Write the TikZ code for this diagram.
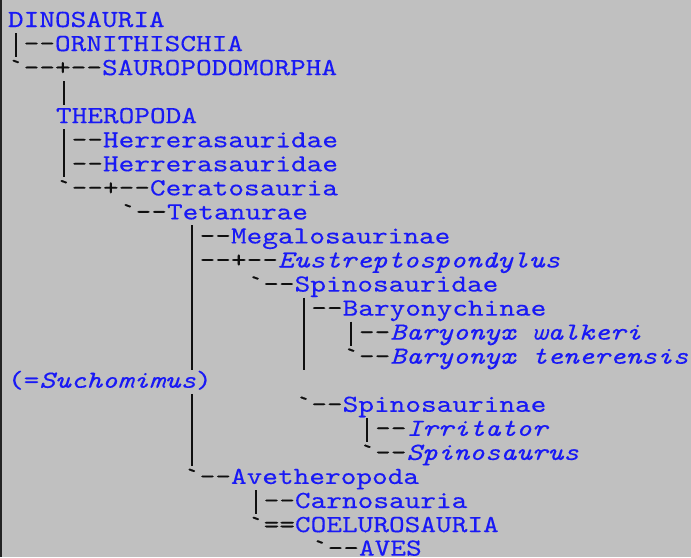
\documentclass[tikz,border=0pt]{standalone}
\usepackage{fontspec}
\setmonofont{lmmono10-regular}[Extension=.otf, ItalicFont=lmmono10-italic, FakeStretch=1.2167, WordSpace=1.0224, FakeBold=0.3]
\usepackage{tikz}
\definecolor{pagegrey}{RGB}{192,192,192}
\definecolor{edgegrey}{RGB}{35,35,35}
\definecolor{linkblue}{RGB}{25,25,245}
\definecolor{treeink}{RGB}{15,15,15}
\newcommand{\tx}[1]{\textcolor{linkblue}{#1}}
\newcommand{\tix}[1]{\textcolor{linkblue}{\textit{#1}}}

\begin{document}
\begin{tikzpicture}[x=0.75pt,y=-0.75pt]
\tikzstyle{row}=[anchor=base west, inner sep=0pt, outer sep=0pt, text height=13.5pt, text depth=4.5pt, text=treeink, font=\ttfamily\fontsize{18.4pt}{22pt}\selectfont]
\tikzstyle{stem}=[treeink, line width=1.2pt]
\useasboundingbox (0,0) rectangle (691,557);
\fill [pagegrey] (0,0) rectangle (691,557);
\fill [edgegrey] (0,0) rectangle (2,557);
\coordinate (c0) at (16,0);
\coordinate (c3) at (64,0);
\coordinate (c11) at (192,0);
\coordinate (c15) at (256,0);
\coordinate (c18) at (304,0);
\coordinate (c21) at (351,0);
\coordinate (c22) at (367,0);
\node [row] (r0) at (8,27) {\tx{DINOSAURIA}};
\node [row] (r1) at (23.65,51.05) {--\tx{ORNITHISCHIA}};
\node [row] (r2) at (8,75.1) {`--+--\tx{SAUROPODOMORPHA}};
\node [row] (r4) at (56,123.2) {\tx{THEROPODA}};
\node [row] (r5) at (71.65,147.25) {--\tx{Herrerasauridae}};
\node [row] (r6) at (71.65,171.3) {--\tx{Herrerasauridae}};
\node [row] (r7) at (56,195.35) {`--+--\tx{Ceratosauria}};
\node [row] (r8) at (120,219.4) {`--\tx{Tetanurae}};
\node [row] (r9) at (199.65,243.45) {--\tx{Megalosaurinae}};
\node [row] (r10) at (199.65,267.5) {--+--\tix{Eustreptospondylus}};
\node [row] (r11) at (247.65,291.55) {`--\tx{Spinosauridae}};
\node [row] (r12) at (311.3,315.6) {--\tx{Baryonychinae}};
\node [row] (r13) at (358.95,339.65) {--\tix{Baryonyx walkeri}};
\node [row] (r14) at (343.3,363.7) {`--\tix{Baryonyx tenerensis}};
\node [row] (r15) at (8,387.75) {\tx{(=\textit{Suchomimus})}};
\node [row] (r16) at (295.65,411.8) {`--\tx{Spinosaurinae}};
\node [row] (r17) at (375.15,435.85) {--\tix{Irritator}};
\node [row] (r18) at (359.5,459.9) {`--\tix{Spinosaurus}};
\node [row] (r19) at (184,483.95) {`--\tx{Avetheropoda}};
\node [row] (r20) at (263.65,508) {--\tx{Carnosauria}};
\node [row] (r21) at (248,532.05) {`==\tx{COELUROSAURIA}};
\node [row] (r22) at (312,555.6) {`--\tx{AVES}};
\draw [stem] (c0 |- r1.north) -- (c0 |- r1.south);
\draw [stem] (c3 |- r2.south) -- (c3 |- r4.north);
\draw [stem] (c3 |- r5.north) -- (c3 |- r6.south);
\draw [stem] (c11 |- r9.north) -- (c11 |- r14.south);
\draw [stem] (c11 |- r16.north) -- (c11 |- r18.south);
\draw [stem] (c18 |- r12.north) -- (c18 |- r14.south);
\draw [stem] (c21 |- r13.north) -- (c21 |- r13.south);
\draw [stem] (c22 |- r17.north) -- (c22 |- r17.south);
\draw [stem] (c15 |- r20.north) -- (c15 |- r20.south);
\end{tikzpicture}
\end{document}
